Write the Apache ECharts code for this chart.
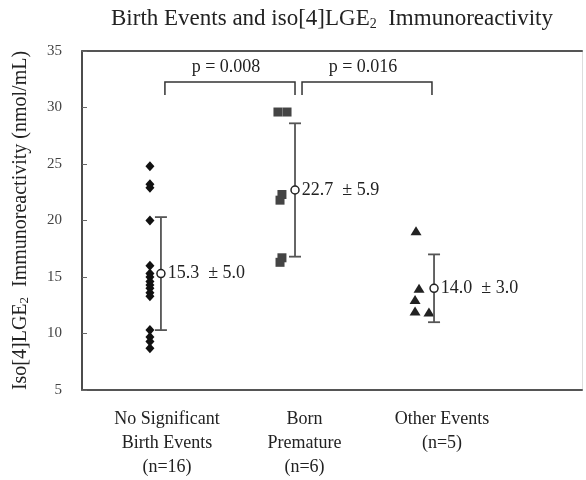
<!DOCTYPE html>
<html>
<head>
<meta charset="utf-8">
<script src="https://cdn.jsdelivr.net/npm/echarts@6/dist/echarts.min.js"></script>
<style>
html,body{margin:0;padding:0;background:#fff;}
#chart{width:586px;height:480px;}
</style>
</head>
<body>
<div id="chart"></div>
<script>
// ---- data ----
const categories = ['No Significant\nBirth Events\n(n=16)', 'Born\nPremature\n(n=6)', 'Other Events\n(n=5)'];
const noSigBirth = [24.8, 23.2, 22.9, 20.0, 16.0, 15.3, 15.0, 14.6, 14.3, 14.0, 13.6, 13.3, 10.3, 9.7, 9.3, 8.7];
const bornPremature = [29.6, 29.6, 22.3, 21.8, 16.7, 16.3];
const otherEvents = [19.1, 14.0, 13.0, 12.0, 11.9];
const groupMeans = [15.3, 22.7, 14.0];
const groupSDs = [5.0, 5.9, 3.0];
const pLabels = ['p = 0.008', 'p = 0.016'];
const yMin = 5, yMax = 35, yStep = 5;

// ---- layout (positions relative to category centres) ----
const FONT = '"Liberation Serif", "Times New Roman", serif';
const noSigJitter = noSigBirth.map(() => -0.124);
const prematureJitter = [-0.193, -0.127, -0.164, -0.178, -0.164, -0.178];
const otherJitter = [-0.189, -0.167, -0.196, -0.196, -0.095];
const meanOffset = [-0.044, -0.069, -0.058];
const bracketEnds = [[0.985, 1.931], [1.982, 2.927]];
const bracketY = 32.26, bracketTickY = 31.1;

const pts = (vals, jit, c) => vals.map((v, i) => [c + jit[i], v]);
const meanData = groupMeans.map((m, i) => [i + 1 + meanOffset[i], m, groupSDs[i]]);

const chart = echarts.init(document.getElementById('chart'));
chart.setOption({
  animation: false,
  backgroundColor: '#fff',
  title: {
    text: 'Birth Events and iso[4]LGE{sub|2}  Immunoreactivity',
    left: 106, top: 2,
    textStyle: {
      fontFamily: FONT, fontSize: 23, fontWeight: 'normal', color: '#222',
      rich: { sub: { fontFamily: FONT, fontSize: 14, color: '#222', verticalAlign: 'bottom', padding: [10, 0, 0, 0] } }
    }
  },
  grid: { left: 82, top: 51, right: 4, bottom: 90 },
  xAxis: [{
    type: 'value', min: 0.382, max: 4.018, position: 'bottom',
    axisLine: { show: true, onZero: false, lineStyle: { color: '#555', width: 2 } },
    axisTick: { show: false }, splitLine: { show: false },
    axisLabel: {
      customValues: [1, 2, 3],
      formatter: v => categories[Math.round(v) - 1],
      fontFamily: FONT, fontSize: 18, lineHeight: 24, color: '#222', margin: 17
    }
  }, {
    type: 'value', min: 0.382, max: 4.018, position: 'top',
    axisLine: { show: true, onZero: false, lineStyle: { color: '#555', width: 2 } },
    axisTick: { show: false }, axisLabel: { show: false }, splitLine: { show: false }
  }],
  yAxis: [{
    type: 'value', min: yMin, max: yMax, interval: yStep, position: 'left',
    axisLine: { show: true, onZero: false, lineStyle: { color: '#111', width: 1.5 } },
    axisTick: { show: true, inside: true, length: 5, lineStyle: { color: '#666' } },
    splitLine: { show: false },
    axisLabel: { fontFamily: FONT, fontSize: 15, color: '#444', margin: 20 },
    name: 'Iso[4]LGE{sub|2}  Immunoreactivity (nmol/mL)',
    nameLocation: 'middle', nameGap: 51, nameRotate: 90,
    nameTextStyle: {
      fontFamily: FONT, fontSize: 20, color: '#222',
      rich: { sub: { fontFamily: FONT, fontSize: 13, color: '#222', verticalAlign: 'bottom' } }
    }
  }, {
    type: 'value', min: yMin, max: yMax, position: 'right',
    axisLine: { show: true, onZero: false, lineStyle: { color: '#ddd', width: 1 } },
    axisTick: { show: false }, axisLabel: { show: false }, splitLine: { show: false }
  }],
  series: [
    {
      type: 'scatter', data: pts(noSigBirth, noSigJitter, 1),
      symbol: 'diamond', symbolSize: [9, 10], itemStyle: { color: '#111', opacity: 1 }
    },
    {
      type: 'scatter', data: pts(bornPremature, prematureJitter, 2),
      symbol: 'rect', symbolSize: [9, 9], itemStyle: { color: '#444', opacity: 1 }
    },
    {
      type: 'scatter', data: pts(otherEvents, otherJitter, 3),
      symbol: 'triangle', symbolSize: [11, 9], itemStyle: { color: '#222', opacity: 1 }
    },
    {
      type: 'custom', data: meanData, z: 3,
      renderItem: (params, api) => {
        const x = api.value(0), m = api.value(1), s = api.value(2);
        const top = api.coord([x, m + s]), bot = api.coord([x, m - s]);
        const hw = 6;
        const ls = { stroke: '#555', lineWidth: 1.8 };
        return { type: 'group', children: [
          { type: 'line', shape: { x1: top[0], y1: top[1], x2: bot[0], y2: bot[1] }, style: ls },
          { type: 'line', shape: { x1: top[0] - hw, y1: top[1], x2: top[0] + hw, y2: top[1] }, style: ls },
          { type: 'line', shape: { x1: bot[0] - hw, y1: bot[1], x2: bot[0] + hw, y2: bot[1] }, style: ls }
        ]};
      }
    },
    {
      type: 'scatter', data: meanData, z: 4,
      symbol: 'circle', symbolSize: 8,
      itemStyle: { color: '#fff', borderColor: '#222', borderWidth: 1.5, opacity: 1 },
      label: {
        show: true, position: 'right', distance: 2,
        fontFamily: FONT, fontSize: 18, color: '#222',
        formatter: p => p.value[1].toFixed(1) + '  \u00b1 ' + p.value[2].toFixed(1)
      }
    },
    {
      type: 'custom', z: 3,
      data: bracketEnds.map((b, i) => [b[0], b[1], i]),
      renderItem: (params, api) => {
        const x1 = api.value(0), x2 = api.value(1), i = api.value(2);
        const a = api.coord([x1, bracketTickY]), b = api.coord([x1, bracketY]);
        const c = api.coord([x2, bracketY]), d = api.coord([x2, bracketTickY]);
        return { type: 'group', children: [
          { type: 'polyline', shape: { points: [a, b, c, d] }, style: { stroke: '#333', lineWidth: 1.5, fill: null } },
          { type: 'text', x: (b[0] + c[0]) / 2 - 4, y: b[1] - 15,
            style: { text: pLabels[i], fontFamily: FONT, fontSize: 18, fill: '#222', align: 'center', verticalAlign: 'middle' } }
        ]};
      }
    }
  ]
});
</script>
</body>
</html>
